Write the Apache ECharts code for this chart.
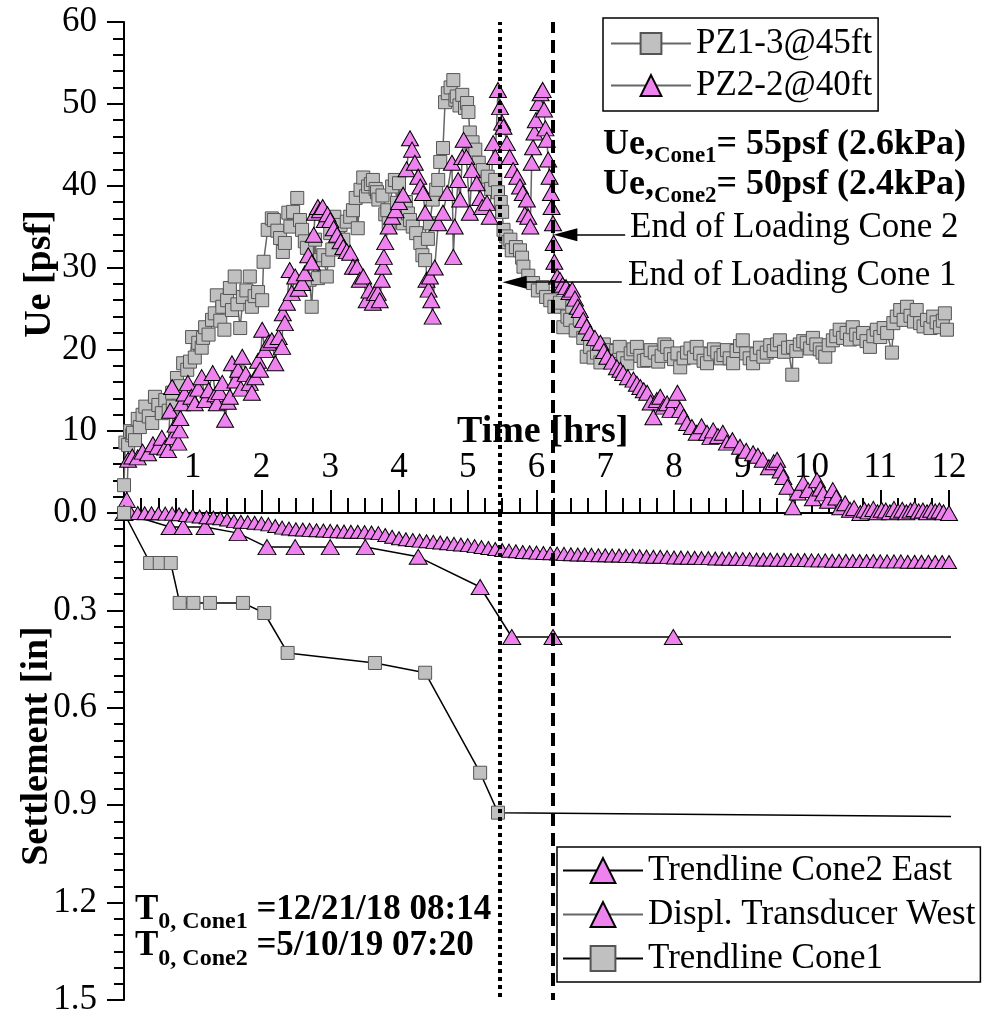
<!DOCTYPE html>
<html>
<head>
<meta charset="utf-8">
<script src="https://cdn.jsdelivr.net/npm/echarts@6/dist/echarts.min.js"></script>
<style>
  html, body { margin: 0; background: #fff }
  #chart { width: 993px; height: 1017px }
</style>
</head>
<body>
<div id="chart"></div>
<script>
// PZ1-3@45ft, [time hrs, Ue psf]
const pz13 = [
  [0.00,3.4],[0.02,8.6],[0.06,8.3],[0.09,10.0],[0.12,9.5],[0.13,9.8],[0.16,8.9],[0.2,11.5],[0.23,10.5],[0.27,12.0],
  [0.31,13.0],[0.36,11.8],[0.41,11.0],[0.45,14.2],[0.5,13.2],[0.55,12.2],[0.6,13.8],[0.65,12.5],[0.7,14.7],[0.71,13.0],
  [0.77,16.5],[0.82,15.5],[0.86,18.3],[0.92,17.5],[0.96,18.5],[0.99,21.5],[1.03,19.0],[1.08,20.8],[1.13,20.2],[1.15,21.4],
  [1.18,22.7],[1.23,21.8],[1.28,23.6],[1.32,24.4],[1.35,26.6],[1.4,23.5],[1.43,25.2],[1.46,22.4],[1.5,26.0],[1.54,27.5],
  [1.57,24.8],[1.61,28.9],[1.65,25.5],[1.69,22.6],[1.73,26.4],[1.78,27.2],[1.83,28.9],[1.86,25.2],[1.9,26.5],[1.95,27.0],
  [2.01,26.0],[2.03,30.7],[2.09,34.6],[2.15,36.0],[2.18,35.8],[2.23,34.5],[2.27,33.6],[2.31,31.9],[2.34,33.0],[2.39,36.7],
  [2.42,35.0],[2.46,36.8],[2.52,38.5],[2.56,35.8],[2.59,34.6],[2.63,33.2],[2.66,32.4],[2.7,28.5],[2.73,25.2],[2.78,33.4],
  [2.82,28.7],[2.85,30.9],[2.9,31.5],[2.95,28.9],[2.97,30.9],[3.0,34.2],[3.03,32.2],[3.06,36.2],[3.11,34.2],[3.15,35.2],
  [3.19,33.4],[3.24,35.6],[3.29,36.2],[3.33,37.0],[3.37,38.5],[3.4,34.8],[3.44,39.5],[3.48,41.0],[3.52,38.7],[3.55,39.9],
  [3.59,40.2],[3.62,40.7],[3.66,39.6],[3.68,39.2],[3.7,38.3],[3.76,38.8],[3.8,36.5],[3.83,37.0],[3.85,35.4],[3.9,39.9],
  [3.94,40.7],[3.97,37.9],[4.0,40.3],[4.02,36.7],[4.06,35.4],[4.1,38.0],[4.13,36.6],[4.16,35.8],[4.2,35.0],[4.25,34.2],
  [4.31,33.0],[4.34,31.5],[4.38,30.9],[4.42,33.5],[4.45,35.4],[4.49,38.3],[4.54,39.5],[4.57,40.7],[4.6,42.9],[4.64,44.6],
  [4.67,50.2],[4.71,51.3],[4.75,52.0],[4.79,52.9],[4.82,50.5],[4.84,50.9],[4.88,49.8],[4.92,51.1],[4.96,49.5],[4.99,50.1],
  [5.01,49.0],[5.03,46.5],[5.07,45.3],[5.11,44.4],[5.16,42.8],[5.22,41.9],[5.26,40.5],[5.29,41.1],[5.34,39.6],[5.4,40.7],
  [5.44,39.2],[5.48,38.0],[5.5,36.8],[5.52,34.6],[5.56,33.8],[5.59,33.1],[5.62,33.4],[5.64,32.1],[5.7,32.5],[5.76,32.1],
  [5.79,31.2],[5.81,30.1],[5.88,29.0],[5.95,28.1],[6.02,27.2],[6.09,27.6],[6.14,26.4],[6.2,26.0],[6.26,25.2],[6.34,25.7],
  [6.39,22.7],[6.45,24.0],[6.49,23.6],[6.52,25.2],[6.57,22.3],[6.63,23.6],[6.68,21.4],[6.73,19.1],[6.78,20.3],[6.83,19.0],
  [6.88,19.6],[6.93,18.4],[6.98,20.6],[7.03,19.9],[7.07,19.0],[7.11,18.7],[7.16,19.8],[7.21,20.3],[7.26,18.9],[7.32,18.3],
  [7.37,19.5],[7.41,20.0],[7.46,20.3],[7.51,19.2],[7.56,18.6],[7.61,18.7],[7.66,19.9],[7.72,19.6],[7.77,18.5],[7.82,19.2],
  [7.86,20.6],[7.9,20.3],[7.95,19.4],[8.0,18.8],[8.05,19.5],[8.09,17.8],[8.14,18.9],[8.19,19.6],[8.24,20.1],[8.29,19.0],
  [8.33,20.3],[8.38,19.5],[8.43,18.6],[8.48,18.3],[8.53,19.4],[8.58,20.0],[8.63,19.6],[8.68,18.9],[8.72,19.3],[8.77,19.9],
  [8.81,18.9],[8.86,18.3],[8.91,19.8],[8.96,20.4],[9.0,21.1],[9.05,19.5],[9.1,18.9],[9.15,18.3],[9.2,19.4],[9.25,20.2],
  [9.3,19.1],[9.35,19.6],[9.4,20.5],[9.45,19.8],[9.5,20.6],[9.54,21.1],[9.6,19.7],[9.66,20.2],[9.72,16.9],[9.73,20.3],
  [9.78,19.8],[9.83,20.6],[9.88,21.0],[9.93,20.8],[9.98,20.1],[10.02,21.4],[10.07,20.6],[10.12,20.0],[10.16,19.6],[10.2,19.1],
  [10.25,20.5],[10.31,21.1],[10.36,21.6],[10.41,22.4],[10.46,21.4],[10.51,22.0],[10.56,21.2],[10.6,22.7],[10.65,21.8],[10.7,21.3],
  [10.75,22.0],[10.8,21.0],[10.85,20.3],[10.9,21.6],[10.95,22.4],[11.0,21.5],[11.05,22.6],[11.1,22.0],[11.17,19.6],[11.19,23.2],
  [11.24,24.0],[11.29,24.8],[11.34,23.6],[11.39,25.2],[11.44,24.1],[11.49,23.4],[11.53,24.8],[11.58,23.2],[11.63,22.8],[11.68,23.6],
  [11.73,22.6],[11.77,24.0],[11.82,23.3],[11.87,22.7],[11.91,23.5],[11.94,24.4],[11.97,22.4]
]

// PZ2-2@40ft, [time hrs, Ue psf]
const pz22 = [
  [0.04,1.6],[0.06,6.5],[0.12,6.9],[0.2,6.8],[0.27,7.5],[0.35,7.3],[0.42,8.4],[0.49,8.1],[0.55,9.2],[0.6,8.0],
  [0.64,7.7],[0.67,12.5],[0.7,15.4],[0.71,9.3],[0.75,10.8],[0.79,8.6],[0.81,10.1],[0.82,11.6],[0.84,13.4],[0.88,14.6],
  [0.93,15.9],[0.98,14.2],[1.03,13.4],[1.08,15.2],[1.13,16.6],[1.18,13.8],[1.23,15.0],[1.29,17.1],[1.33,14.5],[1.35,13.4],
  [1.39,14.8],[1.43,15.9],[1.47,11.4],[1.51,13.6],[1.54,14.2],[1.57,18.3],[1.62,16.2],[1.66,17.5],[1.7,15.2],[1.72,19.1],
  [1.77,17.0],[1.83,15.9],[1.86,14.7],[1.91,16.6],[1.95,18.6],[1.98,17.5],[2.01,22.4],[2.05,19.9],[2.1,20.8],[2.15,21.1],
  [2.2,18.3],[2.25,21.5],[2.3,20.3],[2.31,24.4],[2.34,23.2],[2.37,25.7],[2.41,29.7],[2.44,26.9],[2.49,28.9],[2.54,27.4],
  [2.59,28.1],[2.63,29.3],[2.68,31.5],[2.73,30.6],[2.76,34.0],[2.78,36.7],[2.82,37.4],[2.85,37.0],[2.89,37.4],[2.92,35.8],
  [2.96,36.5],[3.0,35.8],[3.05,34.8],[3.1,34.0],[3.15,33.2],[3.19,32.5],[3.24,32.0],[3.29,31.8],[3.33,30.1],[3.39,30.1],
  [3.43,28.5],[3.48,28.9],[3.53,26.0],[3.57,27.2],[3.62,25.7],[3.65,26.9],[3.69,26.9],[3.72,26.0],[3.75,28.5],[3.77,30.1],
  [3.78,31.3],[3.8,33.1],[3.85,35.0],[3.9,36.2],[3.95,37.0],[4.0,38.0],[4.06,38.9],[4.11,42.0],[4.16,45.8],[4.19,44.4],
  [4.23,42.8],[4.28,41.1],[4.31,39.9],[4.35,39.1],[4.38,36.7],[4.4,28.5],[4.43,27.3],[4.45,28.9],[4.47,26.0],[4.49,24.0],
  [4.52,30.0],[4.57,35.4],[4.64,36.7],[4.7,39.1],[4.77,42.8],[4.79,31.3],[4.81,35.0],[4.86,40.7],[4.89,38.3],[4.92,43.5],
  [4.94,45.6],[4.98,43.5],[5.03,36.7],[5.06,41.9],[5.13,40.3],[5.18,38.5],[5.21,37.4],[5.28,37.9],[5.32,36.2],[5.37,45.2],
  [5.4,43.5],[5.44,51.7],[5.47,49.6],[5.5,47.7],[5.52,47.2],[5.57,45.2],[5.61,43.5],[5.66,41.9],[5.72,41.1],[5.76,39.9],
  [5.8,39.1],[5.83,36.5],[5.86,38.3],[5.88,36.2],[5.91,35.0],[5.93,42.8],[5.95,44.7],[5.97,46.5],[5.99,48.0],[6.03,50.1],
  [6.06,51.3],[6.09,51.7],[6.11,49.3],[6.13,47.0],[6.15,45.6],[6.17,43.2],[6.19,41.1],[6.21,39.1],[6.22,37.4],[6.24,35.4],
  [6.25,33.0],[6.26,30.7],[6.3,28.9],[6.34,28.5],[6.38,27.9],[6.43,27.6],[6.48,27.0],[6.52,27.3],[6.56,26.2],[6.6,25.2],
  [6.63,24.8],[6.68,23.6],[6.73,22.8],[6.78,22.0],[6.85,21.4],[6.93,20.8],[6.98,19.8],[7.03,19.1],[7.1,18.5],[7.17,17.8],
  [7.22,17.5],[7.26,17.1],[7.33,16.6],[7.41,16.3],[7.46,15.8],[7.51,15.4],[7.56,15.0],[7.61,14.7],[7.66,13.5],[7.7,11.7],
  [7.75,13.8],[7.8,14.2],[7.85,13.0],[7.9,13.4],[7.95,12.6],[8.0,13.8],[8.05,14.7],[8.09,12.6],[8.14,11.8],[8.19,11.0],
  [8.26,10.5],[8.33,9.8],[8.4,10.6],[8.48,9.8],[8.53,9.3],[8.57,10.1],[8.64,9.4],[8.71,9.8],[8.77,8.6],[8.85,8.9],
  [8.96,8.1],[9.05,7.6],[9.15,7.3],[9.22,7.0],[9.29,6.5],[9.38,5.6],[9.45,6.2],[9.5,6.5],[9.55,5.2],[9.59,4.4],
  [9.65,3.2],[9.73,0.7],[9.8,2.5],[9.88,3.7],[9.95,2.8],[10.02,1.8],[10.08,4.0],[10.13,3.0],[10.17,2.4],[10.24,1.5],
  [10.31,2.8],[10.36,1.9],[10.42,0.7],[10.49,1.2],[10.56,0.4],[10.62,0.6],[10.71,0.0],[10.77,0.4],[10.83,0.2],[10.9,0.5],
  [10.96,0.1],[11.02,0.4],[11.08,0.3],[11.14,0.1],[11.2,0.5],[11.26,0.2],[11.32,0.4],[11.38,0.1],[11.44,0.3],[11.5,0.5],
  [11.56,0.2],[11.62,0.3],[11.68,0.1],[11.74,0.4],[11.8,0.2],[11.86,0.3],[11.92,0.1],[12.0,0.0]
]

// settlement [time hrs, in]
const cone2East = [
  [0,0],[0.67,0.043],[0.86,0.043],[1.18,0.043],[1.66,0.062],[2.08,0.105],[2.49,0.105],[3.0,0.105],
  [3.51,0.105],[4.28,0.135],[5.18,0.228],[5.64,0.382],[6.24,0.382],[7.99,0.382]
]
const cone2EastEnd = [12.13,0.382]

const displWest = [
  [0.1,0.000],[0.2,0.000],[0.3,0.001],[0.4,0.001],[0.5,0.001],[0.6,0.002],[0.7,0.002],[0.8,0.004],[0.9,0.006],[1.0,0.008],
  [1.1,0.011],[1.2,0.013],[1.3,0.014],[1.4,0.016],[1.5,0.020],[1.6,0.025],[1.7,0.027],[1.8,0.028],[1.9,0.030],[2.0,0.032],
  [2.1,0.035],[2.2,0.040],[2.3,0.045],[2.4,0.048],[2.5,0.050],[2.6,0.051],[2.7,0.052],[2.8,0.053],[2.9,0.054],[3.0,0.055],
  [3.1,0.056],[3.2,0.057],[3.3,0.058],[3.4,0.058],[3.5,0.059],[3.6,0.060],[3.7,0.062],[3.8,0.068],[3.9,0.073],[4.0,0.078],
  [4.1,0.081],[4.2,0.083],[4.3,0.085],[4.4,0.087],[4.5,0.089],[4.6,0.091],[4.7,0.093],[4.8,0.095],[4.9,0.097],[5.0,0.099],
  [5.1,0.102],[5.2,0.105],[5.3,0.108],[5.4,0.111],[5.5,0.114],[5.6,0.116],[5.7,0.118],[5.8,0.120],[5.9,0.121],[6.0,0.122],
  [6.1,0.123],[6.2,0.124],[6.3,0.125],[6.4,0.126],[6.5,0.127],[6.6,0.128],[6.7,0.128],[6.8,0.129],[6.9,0.130],[7.0,0.130],
  [7.1,0.131],[7.2,0.131],[7.3,0.132],[7.4,0.132],[7.5,0.133],[7.6,0.134],[7.7,0.135],[7.8,0.135],[7.9,0.136],[8.0,0.137],
  [8.1,0.137],[8.2,0.138],[8.3,0.138],[8.4,0.139],[8.5,0.139],[8.6,0.140],[8.7,0.140],[8.8,0.141],[8.9,0.141],[9.0,0.142],
  [9.1,0.142],[9.2,0.143],[9.3,0.143],[9.4,0.143],[9.5,0.144],[9.6,0.144],[9.7,0.145],[9.8,0.145],[9.9,0.145],[10.0,0.146],
  [10.1,0.146],[10.2,0.146],[10.3,0.147],[10.4,0.147],[10.5,0.147],[10.6,0.148],[10.7,0.148],[10.8,0.148],[10.9,0.148],[11.0,0.149],
  [11.1,0.149],[11.2,0.149],[11.3,0.149],[11.4,0.150],[11.5,0.150],[11.6,0.150],[11.7,0.150],[11.8,0.151],[11.9,0.151],[12.0,0.151]
]

const cone1 = [
  [0,0],[0.38,0.154],[0.52,0.154],[0.68,0.154],[0.81,0.277],[1.01,0.277],[1.25,0.277],[1.73,0.277],
  [2.04,0.308],[2.38,0.431],[3.65,0.462],[4.38,0.492],[5.18,0.80],[5.44,0.923]
]
const cone1End = [12.13,0.935]

// end of loading times [hrs]
const endLoadCone1 = 5.455
const endLoadCone2 = 6.24

const serif = '"Liberation Serif", "Times New Roman", serif'
const PINK = '#ee82ee'
const GRAY = '#c0c0c0'

// width of a text piece, for placing subscripts
const ctx = document.createElement('canvas').getContext('2d')
const textWidth = (txt, font) => {
  ctx.font = font
  return ctx.measureText(txt).width
}

// pieces: [text, fontSize, baselineShift], placed left to right on one baseline
const textRun = (x, baseline, pieces, bold) => {
  const els = []
  let cx = x
  pieces.forEach(([txt, size, dy]) => {
    const font = `${bold ? 'bold ' : ''}${size}px ${serif}`
    els.push({
      type: 'text',
      x: cx,
      y: baseline + dy - size * 0.34,
      style: {
        text: txt, font, fill: '#000',
        align: 'left', verticalAlign: 'middle',
        textAlign: 'left', textVerticalAlign: 'middle'
      }
    })
    cx += textWidth(txt, font)
  })
  return els
}

const rotTitle = (txt, x, y) => ({
  type: 'text', x, y, rotation: Math.PI / 2,
  style: {
    text: txt, font: `bold 38px ${serif}`, fill: '#000',
    align: 'center', verticalAlign: 'middle',
    textAlign: 'center', textVerticalAlign: 'middle'
  }
})

const graphics = [
  ...textRun(603, 157, [['Ue,', 36, 0], ['Cone1', 23, 7], ['= 55psf (2.6kPa)', 36, 0]], true),
  ...textRun(603, 197, [['Ue,', 36, 0], ['Cone2', 23, 7], ['= 50psf (2.4kPa)', 36, 0]], true),
  ...textRun(630, 240, [['End of Loading Cone 2', 35, 0]], false),
  ...textRun(628, 288, [['End of Loading Cone 1', 35, 0]], false),
  ...textRun(135, 922, [['T', 35, 0], ['0, Cone1', 24, 8], [' =12/21/18 08:14', 35, 0]], true),
  ...textRun(135, 958, [['T', 35, 0], ['0, Cone2', 24, 9], [' =5/10/19 07:20', 35, 0]], true),
  ...textRun(457, 445, [['Time [hrs]', 38, 0]], true),
  rotTitle('Ue [psf]', 40, 274),
  rotTitle('Settlement [in]', 37, 746)
]

const black = { color: '#000', width: 2 }
const tickLabel = { fontFamily: serif, fontSize: 35, color: '#000' }

const chart = echarts.init(document.getElementById('chart'))
chart.setOption({
  animation: false,
  backgroundColor: '#fff',
  grid: [
    { left: 124, top: 22, width: 825, height: 491, outerBoundsMode: 'none' },
    { left: 124, top: 513, width: 825, height: 487, outerBoundsMode: 'none' }
  ],
  xAxis: [
    {
      type: 'value', gridIndex: 0, min: 0, max: 12, interval: 1,
      axisLine: { lineStyle: black },
      axisTick: { inside: true, length: 23, lineStyle: black },
      minorTick: { show: true, splitNumber: 4, length: 15, lineStyle: black },
      axisLabel: {
        inside: true, margin: 28, ...tickLabel, showMinLabel: true, showMaxLabel: true,
        formatter: (v) => (v === 0 ? '' : String(v))
      },
      splitLine: { show: false }
    },
    { type: 'value', gridIndex: 1, min: 0, max: 12, show: false }
  ],
  yAxis: [
    {
      type: 'value', gridIndex: 0, min: 0, max: 60, interval: 10,
      axisLine: { lineStyle: black },
      axisTick: { length: 17, lineStyle: black },
      minorTick: { show: true, splitNumber: 5, length: 11, lineStyle: black },
      axisLabel: { margin: 27, ...tickLabel, formatter: (v) => (v === 0 ? '' : String(v)) },
      splitLine: { show: false }
    },
    {
      type: 'value', gridIndex: 1, min: 0, max: 1.5, interval: 0.3, inverse: true,
      axisLine: { lineStyle: black },
      axisTick: { length: 17, lineStyle: black },
      minorTick: { show: true, splitNumber: 6, length: 10, lineStyle: black },
      axisLabel: { margin: 27, ...tickLabel, formatter: (v) => v.toFixed(1) },
      splitLine: { show: false }
    }
  ],
  legend: [
    {
      data: ['PZ1-3@45ft', 'PZ2-2@40ft'],
      left: 603, top: 18, orient: 'vertical',
      itemWidth: 80, itemHeight: 26, itemGap: 7,
      padding: [8, 6, 8, 7],
      borderColor: '#000', borderWidth: 1.5,
      textStyle: { fontFamily: serif, fontSize: 35, color: '#000' },
      selectedMode: false
    },
    {
      data: ['Trendline Cone2 East', 'Displ. Transducer West', 'Trendline Cone1'],
      left: 557, top: 847, orient: 'vertical',
      itemWidth: 80, itemHeight: 31, itemGap: 9,
      padding: [6, 5, 6, 5],
      borderColor: '#000', borderWidth: 1.5,
      textStyle: { fontFamily: serif, fontSize: 35, color: '#000' },
      selectedMode: false
    }
  ],
  series: [
    {
      name: 'PZ1-3@45ft', type: 'line', xAxisIndex: 0, yAxisIndex: 0,
      data: pz13, symbol: 'rect', symbolSize: 13,
      itemStyle: { color: GRAY, borderColor: '#555', borderWidth: 1 },
      lineStyle: { color: '#666', width: 1.5 }
    },
    {
      name: 'PZ2-2@40ft', type: 'line', xAxisIndex: 0, yAxisIndex: 0,
      data: pz22, symbol: 'triangle', symbolSize: [17, 15],
      itemStyle: { color: PINK, borderColor: '#000', borderWidth: 1 },
      lineStyle: { color: '#666', width: 1.5 }
    },
    {
      name: 'Trendline Cone2 East', type: 'line', xAxisIndex: 1, yAxisIndex: 1, clip: false,
      data: [...cone2East, { value: cone2EastEnd, symbol: 'none' }],
      symbol: 'triangle', symbolSize: [18, 15],
      itemStyle: { color: PINK, borderColor: '#000', borderWidth: 1 },
      lineStyle: { color: '#000', width: 1.5 }
    },
    {
      name: 'Displ. Transducer West', type: 'line', xAxisIndex: 1, yAxisIndex: 1,
      data: displWest, symbol: 'triangle', symbolSize: [15, 13],
      itemStyle: { color: PINK, borderColor: '#000', borderWidth: 1 },
      lineStyle: { color: '#666', width: 1 }
    },
    {
      name: 'Trendline Cone1', type: 'line', xAxisIndex: 1, yAxisIndex: 1, clip: false,
      data: [...cone1, { value: cone1End, symbol: 'none' }],
      symbol: 'rect', symbolSize: 13,
      itemStyle: { color: GRAY, borderColor: '#555', borderWidth: 1 },
      lineStyle: { color: '#000', width: 1.5 }
    },
    // end-of-loading lines and arrows, top panel
    {
      type: 'line', xAxisIndex: 0, yAxisIndex: 0, data: [], z: 10,
      markLine: {
        silent: true, symbol: 'none', label: { show: false },
        data: [
          { xAxis: endLoadCone1, lineStyle: { color: '#000', width: 4, type: [4, 4] } },
          { xAxis: endLoadCone2, lineStyle: { color: '#000', width: 4, type: [13, 7] } },
          [
            { coord: [7.29, 34.0], symbol: 'none', lineStyle: { color: '#000', width: 1.5, type: 'solid' } },
            { coord: [6.42, 34.0], symbol: 'triangle', symbolSize: [13, 24] }
          ],
          [
            { coord: [7.24, 28.2], symbol: 'none', lineStyle: { color: '#000', width: 1.5, type: 'solid' } },
            { coord: [5.68, 28.2], symbol: 'triangle', symbolSize: [13, 24] }
          ]
        ]
      }
    },
    // end-of-loading lines, bottom panel
    {
      type: 'line', xAxisIndex: 1, yAxisIndex: 1, data: [], z: 10,
      markLine: {
        silent: true, symbol: 'none', label: { show: false },
        data: [
          { xAxis: endLoadCone1, lineStyle: { color: '#000', width: 4, type: [4, 4] } },
          { xAxis: endLoadCone2, lineStyle: { color: '#000', width: 4, type: [13, 7] } }
        ]
      }
    }
  ],
  graphic: graphics
})
</script>
</body>
</html>
